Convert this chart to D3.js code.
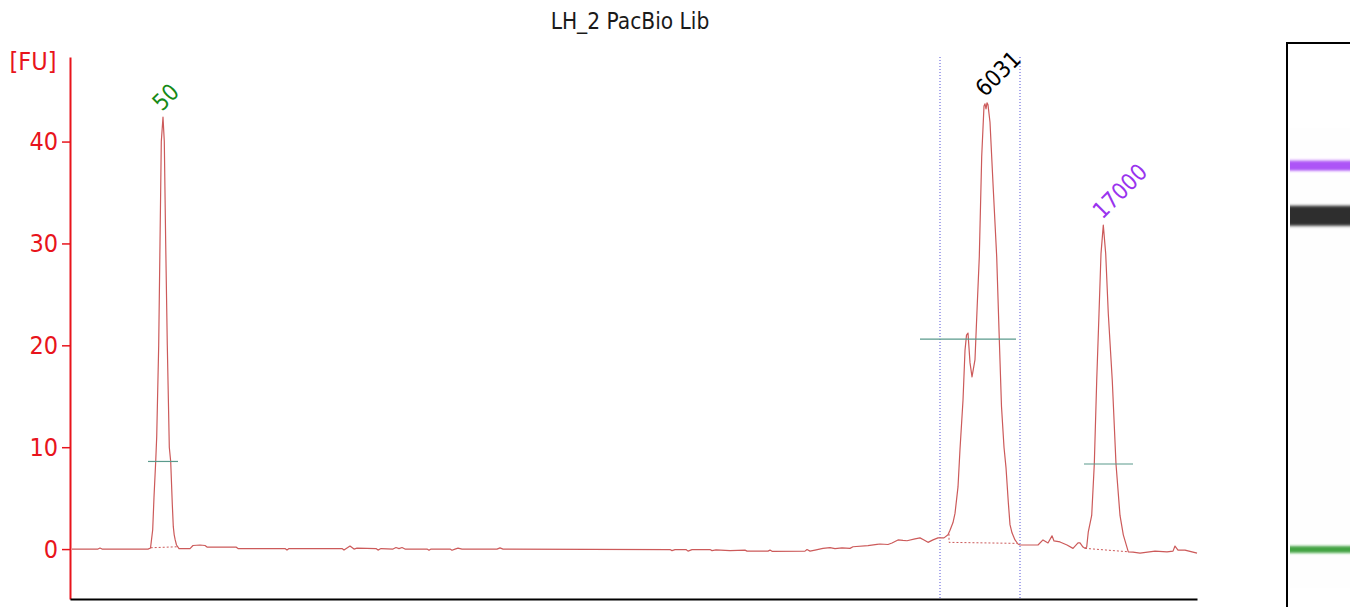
<!DOCTYPE html>
<html>
<head>
<meta charset="utf-8">
<script src="https://cdn.jsdelivr.net/npm/d3@7"></script>
<style>
  html, body { margin: 0; padding: 0; background: #ffffff; }
  svg { display: block; }
  text { font-family: "DejaVu Sans", sans-serif; font-stretch: condensed; }
</style>
</head>
<body>
<svg id="chart" width="1350" height="607"></svg>
<script>
// ---------------- data ----------------
const chartTitle = "LH_2 PacBio Lib";
const yAxisLabel = "[FU]";
const yTickValues = [0, 10, 20, 30, 40];

// migration time (s)
const traceTime = [
  20.2, 22.8, 23.0, 23.2, 27.8, 28.05, 28.27, 28.4, 28.57, 28.67, 28.87, 29.0, 29.13, 29.3,
  29.43, 29.57, 29.73, 29.93, 30.07, 30.23, 30.33, 30.42, 30.52, 30.65, 30.9, 32.0, 32.3, 33.0,
  33.5, 33.7, 36.6, 36.8, 41.5, 41.7, 41.9, 47.2, 47.4, 48.0, 48.4, 48.7, 50.6, 50.8, 51.1,
  52.3, 52.6, 52.9, 53.2, 53.5, 55.7, 55.9, 56.1, 58.0, 58.2, 58.5, 58.8, 59.2, 62.7, 63.0, 63.3,
  80.0, 80.2, 80.5, 81.6, 81.8, 82.2, 84.0, 84.2, 84.6, 86.0, 87.5, 87.7, 89.8, 90.0, 90.2,
  93.5, 93.7, 94.0, 94.5, 95.3, 96.0, 96.5, 97.2, 98.0, 98.3, 99.8, 100.7, 101.0, 101.8, 102.2,
  102.8, 103.3, 103.7, 104.5, 105.0, 105.4, 105.8, 106.3, 106.8, 107.4, 107.8, 108.0, 108.3,
  108.5, 108.8, 109.0, 109.3, 109.5, 109.65, 109.8, 110.0, 110.2, 110.5, 110.73, 110.93, 111.17,
  111.4, 111.5, 111.6, 111.7, 111.8, 112.0, 112.33, 112.67, 112.93, 113.15, 113.4, 113.6, 113.83,
  114.0, 114.2, 114.5, 114.8, 115.0, 115.7, 116.8, 117.3, 117.8, 118.2, 118.4, 119.0, 119.7,
  120.3, 120.8, 121.0, 121.3, 121.5, 121.67, 121.83, 122.17, 122.43, 122.67, 122.9, 123.1, 123.33,
  123.57, 123.83, 124.23, 124.6, 125.0, 125.33, 125.83, 126.3, 127.0, 128.5, 129.7, 130.3, 130.5,
  130.8, 131.5, 132.7
];
// fluorescence (FU)
const traceFU = [
  0.0, 0.0, 0.1, 0.0, 0.0, 0.1, 1.9, 5.1, 8.6, 11.0, 20.0, 30.0, 40.0, 42.4,
  40.0, 30.0, 20.0, 10.0, 8.6, 4.4, 2.2, 1.4, 0.9, 0.4, 0.05, 0.05, 0.35, 0.4,
  0.35, 0.2, 0.2, 0.05, 0.05, -0.1, 0.05, 0.05, -0.1, 0.3, 0.0, 0.1, 0.05, -0.1, 0.05,
  0.0, 0.15, 0.05, 0.15, 0.0, 0.0, -0.12, 0.0, 0.0, -0.12, 0.0, 0.1, 0.0, 0.0, 0.12, 0.0,
  -0.05, -0.15, -0.05, -0.05, -0.2, -0.05, -0.05, -0.15, -0.08, -0.15, -0.1, -0.2, -0.2, -0.1, -0.22,
  -0.2, -0.05, -0.2, -0.1, 0.07, 0.15, 0.05, 0.12, 0.07, 0.23, 0.33, 0.46, 0.5, 0.45, 0.6,
  0.9, 0.85, 0.82, 1.0, 1.1, 0.9, 0.66, 0.9, 1.1, 1.1, 1.4, 1.85, 2.6,
  3.5, 6.1, 9.8, 14.6, 19.5, 21.0, 21.2, 18.3, 16.9, 18.6, 24.1, 28.7, 38.5,
  43.5, 43.7, 43.2, 43.8, 43.6, 41.9, 35.3, 28.7, 20.6, 14.0, 10.0, 8.0, 4.6,
  2.4, 1.6, 0.9, 0.5, 0.4, 0.4, 0.4, 0.9, 0.6, 1.3, 0.8, 0.7, 0.4,
  0.07, 0.6, 0.6, 0.2, 0.07, 0.2, 1.7, 3.3, 8.35, 16.5, 23.1, 29.0, 31.8,
  29.0, 23.1, 16.5, 8.35, 3.3, 1.4, -0.27, -0.3, -0.4, -0.2, -0.27, -0.2, 0.3,
  -0.1, -0.1, -0.4
];

// peak annotations
const peakLabels = ["50", "6031", "17000"];
const peakTimes  = [29.3, 111.6, 123.33];
const peakFU     = [42.4, 43.8, 31.8];
const peakColors = ["#168a16", "#000000", "#9933ee"];

// peak width markers [start time, end time, FU]
const widthStart = [27.8, 105.0, 121.4];
const widthEnd   = [30.8, 114.6, 126.3];
const widthFU    = [8.6, 20.6, 8.35];

// peak baselines (dotted)
const peakBaselines = [
  [[28.07, 0.13], [30.83, 0.23]],
  [[107.9, 1.5], [107.9, 0.66], [114.7, 0.56]],
  [[121.5, 0.07], [125.9, -0.27]]
];

// region boundaries (s)
const regionBounds = [107.0, 115.0];

// gel: marker windows
const gelMarkerWindows = [[27.5, 31.5, "#1a8f1a"], [121.0, 126.0, "#9b30f5"]];

// ---------------- drawing ----------------
const svg = d3.select("#chart");
const x = d3.scaleLinear().domain([20, 132.7]).range([70, 1197]);
const y = d3.scaleLinear().domain([-4.9, 48.3]).range([599, 57]);
const RED = "#e8141c";
const TRACE = "#cc5a5a";

// title
svg.append("text").attr("x", 630).attr("y", 29).attr("text-anchor", "middle")
  .attr("font-size", 22.5).attr("fill", "#1a1a1a").text(chartTitle);

// region lines
svg.selectAll("line.region").data(regionBounds).enter().append("line")
  .attr("x1", d => x(d)).attr("x2", d => x(d))
  .attr("y1", y.range()[1]).attr("y2", y.range()[0])
  .attr("stroke", "#5050d8").attr("stroke-width", 1).attr("stroke-dasharray", "1,2");

// y axis
const yAxis = d3.axisLeft(y).tickValues(yTickValues).tickSize(8).tickSizeOuter(0).tickPadding(4);
const gy = svg.append("g").attr("transform", `translate(${x.range()[0]},0)`).call(yAxis);
gy.select(".domain").attr("stroke", RED).attr("stroke-width", 2);
gy.selectAll(".tick line").attr("stroke", RED).attr("stroke-width", 1.5);
gy.selectAll(".tick text").attr("fill", RED).attr("font-size", 25)
  .attr("font-family", '"DejaVu Sans", sans-serif').style("font-stretch", "condensed");

svg.append("text").attr("x", 33).attr("y", 70).attr("text-anchor", "middle")
  .attr("font-size", 25).attr("fill", RED).text(yAxisLabel);

// x axis line (no ticks)
const xAxis = d3.axisBottom(x).tickValues([]).tickSizeOuter(0);
const gx = svg.append("g").attr("transform", `translate(0,${y.range()[0]})`).call(xAxis);
gx.select(".domain").attr("stroke", "#000").attr("stroke-width", 2);

// peak baselines
const lineGen = d3.line().x(d => x(d[0])).y(d => y(d[1]));
svg.selectAll("path.base").data(peakBaselines).enter().append("path")
  .attr("d", lineGen).attr("fill", "none").attr("stroke", TRACE)
  .attr("stroke-width", 1).attr("stroke-dasharray", "2,2");

// trace
const traceData = traceTime.map((t, i) => [t, traceFU[i]]);
svg.append("path").datum(traceData).attr("d", lineGen)
  .attr("fill", "none").attr("stroke", TRACE).attr("stroke-width", 1.2)
  .attr("stroke-linejoin", "round");

// width markers
svg.selectAll("line.width").data(widthFU).enter().append("line")
  .attr("x1", (d, i) => x(widthStart[i])).attr("x2", (d, i) => x(widthEnd[i]))
  .attr("y1", d => y(d)).attr("y2", d => y(d))
  .attr("stroke", "#5a9a8c").attr("stroke-width", 1.2);

// peak labels
svg.selectAll("text.peak").data(peakLabels).enter().append("text")
  .attr("transform", (d, i) => `translate(${x(peakTimes[i]) - 1},${y(peakFU[i]) - 5}) rotate(-45)`)
  .attr("font-size", 23).attr("fill", (d, i) => peakColors[i]).text(d => d);

// ---------------- gel lane ----------------
const gelY = d3.scaleLinear().domain([20, 132.7]).range([587, 128]);
const gelX0 = 1287, gelTop = 43;
const defs = svg.append("defs");
defs.append("filter").attr("id", "gelBlur").attr("x", "-10%").attr("y", "-20%")
  .attr("width", "120%").attr("height", "140%")
  .append("feGaussianBlur").attr("stdDeviation", "0 1.0");

svg.append("rect").attr("x", gelX0).attr("y", gelTop).attr("width", 80).attr("height", 600)
  .attr("fill", "#ffffff").attr("stroke", "#000").attr("stroke-width", 2);

const bis = d3.bisector(d => d[0]).left;
function fuAt(t) {
  const i = bis(traceData, t);
  if (i <= 0) return traceData[0][1];
  if (i >= traceData.length) return traceData[traceData.length - 1][1];
  const a = traceData[i - 1], b = traceData[i];
  return a[1] + (b[1] - a[1]) * (t - a[0]) / (b[0] - a[0]);
}
const intensity = d3.scaleLinear().domain([2.5, 12]).range([0.012, 1]).clamp(true);
const rows = d3.range(Math.ceil(gelY.range()[1]), Math.floor(gelY.range()[0]) + 1, 0.5);
const gelG = svg.append("g").attr("filter", "url(#gelBlur)");
gelG.selectAll("rect").data(rows).enter().append("rect")
  .attr("x", gelX0 + 3).attr("width", 70).attr("y", d => d).attr("height", 0.6)
  .attr("fill", d => {
    const t = gelY.invert(d);
    const w = gelMarkerWindows.find(m => t >= m[0] && t <= m[1]);
    return w ? w[2] : "#000";
  })
  .attr("fill-opacity", d => intensity(fuAt(gelY.invert(d))));
</script>
</body>
</html>
